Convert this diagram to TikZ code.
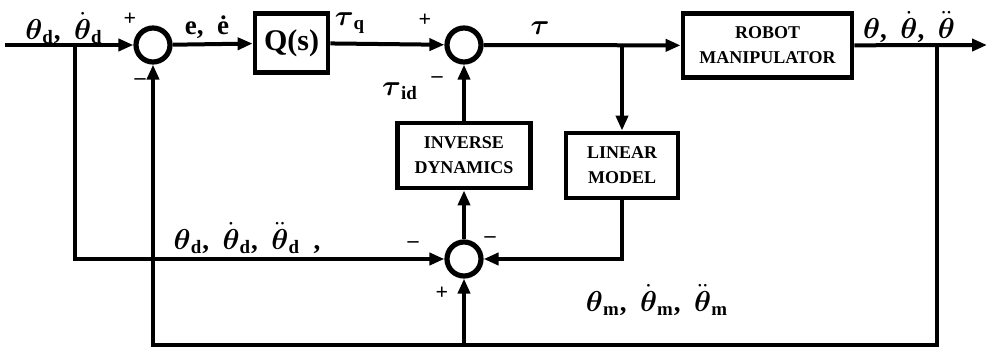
\documentclass[tikz,border=0pt]{standalone}
\usepackage{amsmath}
\usepackage{amssymb}
\usepackage{fontspec}
\setmainfont{Liberation Serif}
\usetikzlibrary{arrows.meta,positioning,calc}
\newcommand{\bth}{\boldsymbol{\theta}}
\tikzset{
  every picture/.style={font=\bfseries},
  wire/.style={line width=2pt},
  sig/.style={wire,-{Triangle[length=7.5pt,width=6pt]}},
  block/.style={draw,line width=2.4pt,align=center,inner sep=0pt,font=\fontsize{9}{12.5}\selectfont\bfseries},
  junction/.style={draw,circle,line width=2.6pt,minimum size=17pt,inner sep=0pt},
  lbl/.style={font=\fontsize{13.5}{15}\selectfont\bfseries,inner sep=0pt},
  sgn/.style={font=\fontsize{11}{12}\selectfont\bfseries,inner sep=0pt},
}

\begin{document}
\begin{tikzpicture}[x=0.5pt,y=-0.5pt]
  \useasboundingbox (0,0) rectangle (989,347);
  % blocks and summing points
  \node[junction] (s1) at (153,45) {};
  \node[block,minimum width=36.5pt,minimum height=29.5pt,font=\fontsize{15}{16}\selectfont\bfseries] (q) at (291.5,43) {Q(s)};
  \node[junction] (s2) at (464,45) {};
  \node[block,minimum width=84.5pt,minimum height=32pt] (robot) at (767.5,45.5) {ROBOT\\MANIPULATOR};
  \node[block,minimum width=66.5pt,minimum height=32.5pt] (inv) at (464,155.5) {INVERSE\\DYNAMICS};
  \node[block,minimum width=56pt,minimum height=32.5pt] (lin) at (622,165.5) {LINEAR\\MODEL};
  \node[junction] (s3) at (464,259) {};
  % branch points
  \coordinate (in) at (5,45);
  \coordinate (b1) at (75,45);
  \coordinate (b2) at (622,45);
  \coordinate (b3) at (937,45);
  \coordinate (out) at (987,45);
  \coordinate (low) at (937,345);
  % forward path
  \draw[sig] (in) -- (s1);
  \draw[sig] (s1) -- (q);
  \draw[sig] (q) -- (s2);
  \draw[sig] (s2) -- (robot);
  \draw[sig] (robot) -- (out);
  \draw[sig] (b2) -- (lin);
  \draw[sig] (s3) -- (inv);
  \draw[sig] (inv) -- (s2);
  % feedback paths
  \draw[sig] (lin) |- (s3);
  \draw[sig] (b1) |- (s3);
  \draw[sig] (b3) |- (s1 |- low) -- (s1);
  \draw[sig] (s3 |- low) -- (s3);
  % signals
  \node[lbl] (thd) at (64,28) {$\bth_{\mathbf{d}}$,\ \ $\dot{\bth}_{\mathbf{d}}$};
  \node[lbl] (err) at (207,27) {e,\ \ \.e};
  \node[lbl] (tq) at (350,23) {$\boldsymbol{\tau}_{\mathbf{q}}$};
  \node[lbl] (tau) at (540,28) {$\boldsymbol{\tau}$};
  \node[lbl] (tid) at (400,91) {$\boldsymbol{\tau}_{\mathbf{id}}$};
  \node[lbl] (th) at (909,27) {$\bth$,\ \ $\dot{\bth}$,\ \ $\ddot{\bth}$};
  \node[lbl] (thdd) at (247,238) {$\bth_{\mathbf{d}}$,\ \ $\dot{\bth}_{\mathbf{d}}$,\ \ $\ddot{\bth}_{\mathbf{d}}$\ \ ,};
  \node[lbl] (thm) at (657,300) {$\bth_{\mathbf{m}}$,\ \ $\dot{\bth}_{\mathbf{m}}$,\ \ $\ddot{\bth}_{\mathbf{m}}$};
  % signs
  \node[sgn] (p1) at (130,19) {+};
  \node[sgn] (m1) at (140,82) {\textendash};
  \node[sgn] (p2) at (425,20) {+};
  \node[sgn] (m2) at (437,80) {\textendash};
  \node[sgn] (m3) at (413,245) {\textendash};
  \node[sgn] (m4) at (490,240) {\textendash};
  \node[sgn] (p3) at (442,293) {+};
\end{tikzpicture}
\end{document}
